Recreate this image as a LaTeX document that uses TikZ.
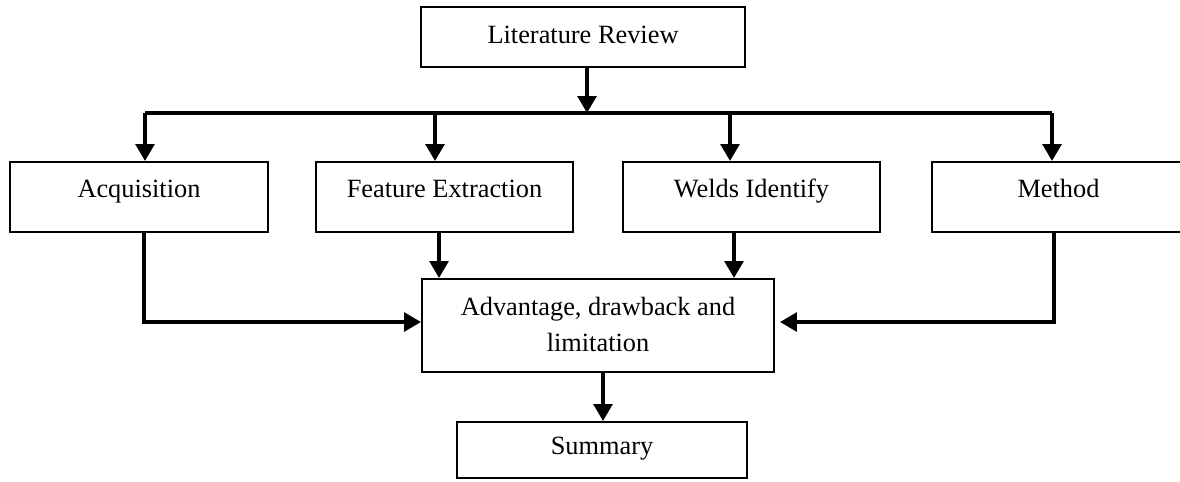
\documentclass[tikz,border=0pt]{standalone}
\usepackage{fontspec}
\setmainfont{Liberation Serif}
\usetikzlibrary{arrows.meta, positioning}

\begin{document}
\begin{tikzpicture}[x=0.02cm, y=-0.02cm,
    box/.style={draw, line width=1.1pt, inner sep=0pt, align=center, font=\fontsize{15}{20}\selectfont},
    rowbox/.style={box, minimum height=1.4cm, text height=0.85em, text depth=0.78em},
    arr/.style={line width=2.4pt, -{Triangle[length=0.34cm, width=0.37cm]}},
    link/.style={line width=2.4pt}]
    \useasboundingbox (0,0) rectangle (1180,481);

    % Boxes
    \node[box, minimum width=6.48cm, minimum height=1.2cm, text height=1em, text depth=0.25em] (lit) at (583,37) {Literature Review};
    \node[rowbox, minimum width=5.16cm] (acq) at (139,197) {Acquisition};
    \node[rowbox, minimum width=5.14cm] (feat) at (444.5,197) {Feature Extraction};
    \node[rowbox, minimum width=5.14cm] (weld) at (751.5,197) {Welds Identify};
    \node[rowbox, minimum width=5.06cm] (meth) at (1058.5,197) {Method};
    \node[box, minimum width=7.04cm, minimum height=1.86cm, text depth=0.13em] (adv) at (598,325.5) {Advantage, drawback and\\limitation};
    \node[box, minimum width=5.8cm, minimum height=1.12cm, text height=1.08em, text depth=0.55em] (sum) at (602,450) {Summary};

    % Bus line
    \coordinate (b1) at (145,113);
    \coordinate (b2) at (435,113);
    \coordinate (b3) at (730,113);
    \coordinate (b4) at (1052,113);
    \draw[link] (b1) -- (b4);
    \draw[arr] ([xshift=0.08cm]lit.south) -- ([xshift=0.08cm]lit.south |- b1);

    % Down to the four topics
    \draw[arr] (b1) -- (b1 |- acq.north);
    \draw[arr] (b2) -- (b2 |- feat.north);
    \draw[arr] (b3) -- (b3 |- weld.north);
    \draw[arr] (b4) -- (b4 |- meth.north);

    % Into the assessment
    \draw[arr] ([xshift=-0.11cm]feat.south) -- ([xshift=-0.11cm]feat.south |- adv.north);
    \draw[arr] ([xshift=-0.35cm]weld.south) -- ([xshift=-0.35cm]weld.south |- adv.north);
    \draw[arr] ([xshift=0.1cm]acq.south) |- ([yshift=0.07cm]adv.west);
    \draw[arr] ([xshift=-0.09cm]meth.south) |- ([xshift=0.1cm, yshift=0.07cm]adv.east);
    \draw[arr] ([xshift=0.1cm]adv.south) -- ([xshift=0.1cm]adv.south |- sum.north);
\end{tikzpicture}
\end{document}
